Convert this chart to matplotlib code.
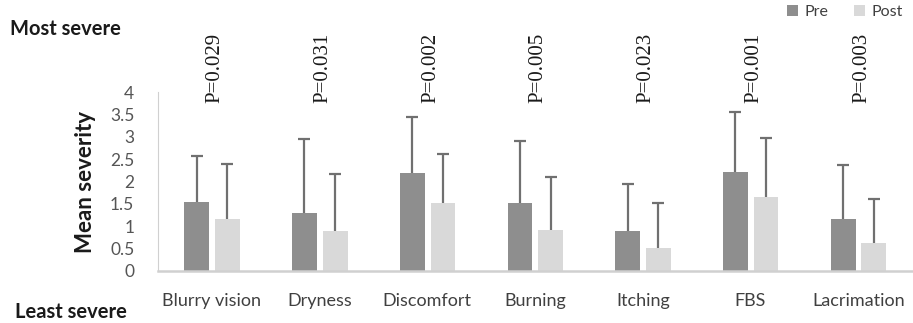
import matplotlib.pyplot as plt
import numpy as np

categories = ['Blurry vision', 'Dryness', 'Discomfort', 'Burning', 'Itching', 'FBS', 'Lacrimation']
pre_mean = [1.55, 1.29, 2.18, 1.51, 0.89, 2.21, 1.16]
pre_sd = [1.01, 1.66, 1.27, 1.40, 1.06, 1.35, 1.20]
post_mean = [1.16, 0.89, 1.51, 0.92, 0.51, 1.65, 0.63]
post_sd = [1.23, 1.28, 1.11, 1.18, 1.00, 1.32, 0.98]
p_values = ['P=0.029', 'P=0.031', 'P=0.002', 'P=0.005', 'P=0.023', 'P=0.001', 'P=0.003']

sans = ['Lato', 'DejaVu Sans']
plt.rcParams['font.family'] = sans

fig = plt.figure(figsize=(9.13, 3.23), dpi=100)
ax = fig.add_axes([0.173, 0.161, 0.826, 0.554])

x = np.arange(len(categories))
w = 0.23
ekw = dict(ecolor='#707070', elinewidth=1.6, capsize=4, capthick=1.6)
bars_pre = ax.bar(x - 0.14, pre_mean, w, color='#8e8e8e', label='Pre',
                  yerr=[np.zeros(len(x)), pre_sd], error_kw=ekw)
bars_post = ax.bar(x + 0.145, post_mean, w, color='#d9d9d9', label='Post',
                   yerr=[np.zeros(len(x)), post_sd], error_kw=ekw)
# keep only the top cap of each error bar
for b in (bars_pre, bars_post):
	caps = b.errorbar.lines[1]
	caps[0].set_visible(False)

for i, p in enumerate(p_values):
	ax.text(i + 0.03, 3.76, p, rotation=90, ha='center', va='bottom',
	        fontsize=15, family='Liberation Serif', color='#1a1a1a', clip_on=False)

ax.set_xlim(-0.5, len(categories) - 0.5)
ax.set_ylim(0, 4)
ax.set_yticks(np.arange(0, 4.01, 0.5))
ax.set_yticklabels(['0', '0.5', '1', '1.5', '2', '2.5', '3', '3.5', '4'])
ax.set_xticks(x)
ax.set_xticklabels(categories)
ax.tick_params(axis='y', length=0, pad=17, labelsize=12.5, labelcolor='#555555')
ax.tick_params(axis='x', length=0, pad=16, labelsize=13, labelcolor='#404040')
for s in ['top', 'right']:
	ax.spines[s].set_visible(False)
ax.spines['left'].set_color('#d0d0d0')
ax.spines['bottom'].set_color('#d0d0d0')
ax.spines['bottom'].set_linewidth(1.8)

ax.set_ylabel('Mean severity', fontsize=16, fontweight='bold', color='#1a1a1a')
ax.yaxis.set_label_coords(-0.082, 0.5)

fig.text(0.011, 0.91, 'Most severe', fontsize=14.5, fontweight='bold', color='#1a1a1a', va='center')
fig.text(0.016, 0.035, 'Least severe', fontsize=14.5, fontweight='bold', color='#1a1a1a', va='center')

fig.legend(loc='upper right', bbox_to_anchor=(1.005, 1.03), ncol=2, frameon=False,
           fontsize=11.5, handlelength=0.7, handleheight=0.7, handletextpad=0.4,
           columnspacing=1.6, labelcolor='#404040')

fig.savefig('out.png', dpi=100)
